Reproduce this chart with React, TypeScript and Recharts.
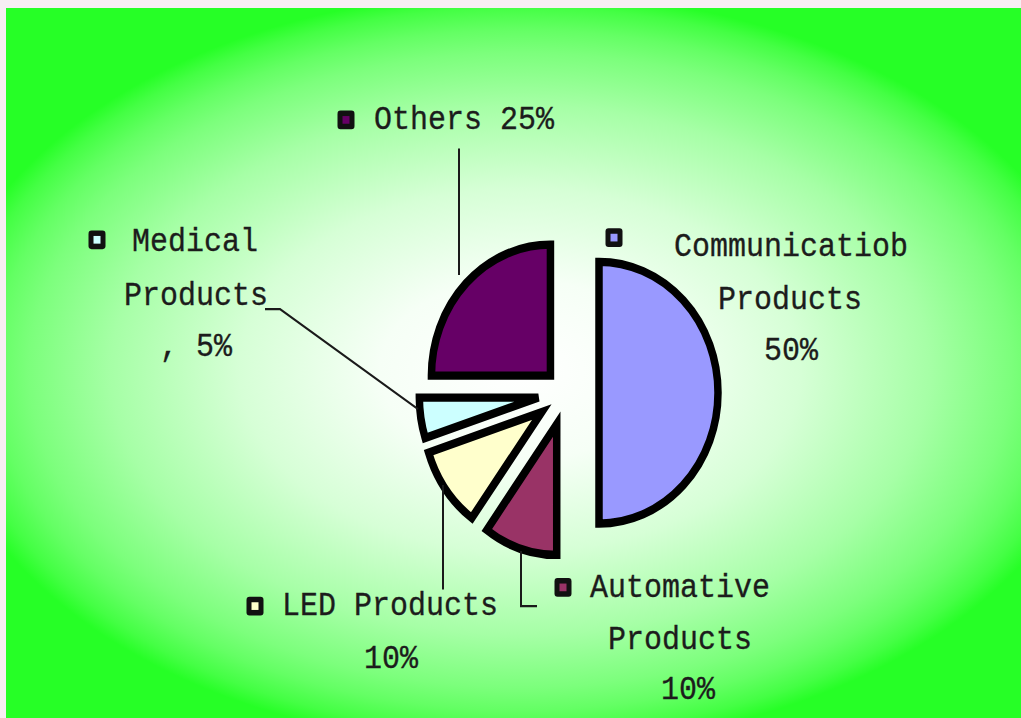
import React from 'react';
import { PieChart, Pie, Cell } from 'recharts';

// values
const CATEGORIES = ['Communicatiob Products', 'Automative Products', 'LED Products', 'Medical Products', 'Others'];
const SHARES = [50, 10, 10, 5, 25];
const COLORS = ['#9999FF', '#993366', '#FFFFCC', '#CCFFFF', '#660066'];
// how far each slice is pulled out of the pie
const EXPLODE = [33, 30, 30, 28, 22];
// label text, split the way the picture breaks it
const LABEL_LINES = [
  ['Communicatiob', 'Products', `${SHARES[0]}%`],
  ['Automative', 'Products', `${SHARES[1]}%`],
  [`LED Products`, `${SHARES[2]}%`],
  ['Medical', 'Products', `, ${SHARES[3]}%`],
  [`Others ${SHARES[4]}%`],
];

const W = 1021;
const H = 653; // drawn, then stretched 1.1 vertically like the original
const CX = 566;
const CY = 357;
const R = 119;
const FONT = '"Liberation Mono", "DejaVu Sans Mono", monospace';

type Pt = [number, number];
interface LabelBox {
  key: Pt;
  lines: Pt[];
  leader?: Pt[];
}

const LABEL_LAYOUT: LabelBox[] = [
  { key: [614, 216], lines: [[791, 225], [790, 273], [791, 319]] },
  { key: [563, 534], lines: [[680, 535], [680, 582], [688, 627]], leader: [[521, 501], [521, 551], [537, 551]] },
  { key: [255, 551], lines: [[390, 551], [391, 599]], leader: [[443, 536], [443, 441]] },
  { key: [97, 218], lines: [[195, 220], [196, 269], [196, 316]], leader: [[265, 281], [280, 281], [418, 372]] },
  { key: [346, 109], lines: [[464, 109]], leader: [[459, 135], [459, 250]] },
];

const data = CATEGORIES.map((name, i) => ({ name, value: SHARES[i] }));
const total = SHARES.reduce((a, b) => a + b, 0);

// mid angle of each slice, clockwise from 12 o'clock (recharts degrees)
const midAngles = SHARES.map((v, i) => {
  const before = SHARES.slice(0, i).reduce((a, b) => a + b, 0);
  const start = 90 - (360 * before) / total;
  return start - (180 * v) / total;
});

const renderLabel = (idx: number) => (props: any) => {
  if (props.index !== idx) return null;
  const lay = LABEL_LAYOUT[idx];
  const [kx, ky] = lay.key;
  return (
    <g>
      {lay.leader && (
        <polyline
          points={lay.leader.map((p) => p.join(',')).join(' ')}
          fill="none"
          stroke="#1a1a1a"
          strokeWidth={2}
        />
      )}
      <rect x={kx - 8.5} y={ky - 8.5} width={17} height={17} rx={3} fill="#111" />
      <rect x={kx - 3.5} y={ky - 3.5} width={7} height={7} fill={COLORS[idx]} />
      {LABEL_LINES[idx].map((t, j) => (
        <text
          key={j}
          x={lay.lines[j][0]}
          y={lay.lines[j][1]}
          textAnchor="middle"
          dominantBaseline="central"
          fontFamily={FONT}
          fontSize={30}
          fill="#1c1c1c"
          stroke="#1c1c1c"
          strokeWidth={0.3}
        >
          {t}
        </text>
      ))}
    </g>
  );
};

export default function App() {
  return (
    <div style={{ position: 'absolute', left: 0, top: 0, width: W, height: 718, background: '#f7eef3', overflow: 'hidden' }}>
      <div
        style={{
          position: 'absolute',
          left: 6,
          top: 8,
          right: 0,
          bottom: 0,
          background:
            'radial-gradient(ellipse 585px 378px at 514px 362px, #ffffff 0%, #f6fff6 24%, #d6ffd6 48%, #a6ffa6 70%, #7cff7c 84%, #64ff64 90%, #44ff44 96%, #26ff26 100%)',
        }}
      />
      <div style={{ position: 'absolute', left: 0, top: 0, transform: 'scaleY(1.1)', transformOrigin: '0 0' }}>
        <PieChart width={W} height={H} margin={{ top: 0, right: 0, bottom: 0, left: 0 }}>
          {SHARES.map((_, i) => {
            const a = (midAngles[i] * Math.PI) / 180;
            return (
              <Pie
                key={i}
                data={data}
                dataKey="value"
                nameKey="name"
                cx={CX + EXPLODE[i] * Math.cos(a)}
                cy={CY - EXPLODE[i] * Math.sin(a)}
                outerRadius={R}
                startAngle={90}
                endAngle={-270}
                isAnimationActive={false}
                labelLine={false}
                label={renderLabel(i)}
              >
                {data.map((_, j) => (
                  <Cell
                    key={j}
                    fill={j === i ? COLORS[j] : 'none'}
                    stroke={j === i ? '#000' : 'none'}
                    strokeWidth={j === i ? 7.5 : 0}
                  />
                ))}
              </Pie>
            );
          })}
        </PieChart>
      </div>
    </div>
  );
}
